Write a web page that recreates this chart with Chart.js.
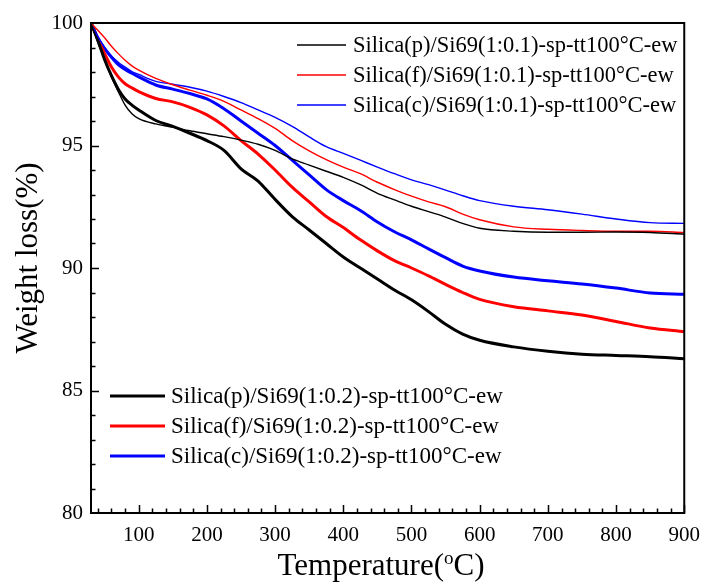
<!DOCTYPE html>
<html>
<head>
<meta charset="utf-8">
<script src="https://cdn.jsdelivr.net/npm/chart.js@4/dist/chart.umd.min.js"></script>
<style>
  body { margin: 0; background: #fff; }
  #wrap { width: 710px; height: 583px; }
</style>
</head>
<body>
<div id="wrap"><canvas id="tgaChart" width="710" height="583"></canvas></div>
<script>
// TGA curves, weight (%) against temperature (°C)
const temps = [30, 40, 50, 60, 70, 80, 90, 100, 125, 150, 175, 200, 225, 250, 275, 300, 325, 350, 375, 400,
               425, 450, 475, 500, 525, 550, 575, 600, 650, 700, 750, 800, 850, 900];

// 1:0.1 series (thin lines)
const silicaP01 = [100, 99.2, 98.5, 97.8, 97.2, 96.65, 96.3, 96.1, 95.88, 95.75, 95.6, 95.48, 95.36, 95.22, 95.05, 94.8,
                   94.45, 94.2, 93.95, 93.7, 93.4, 93.05, 92.78, 92.52, 92.3, 92.08, 91.82, 91.62, 91.5, 91.46, 91.46, 91.47, 91.45, 91.38];
const silicaF01 = [100, 99.7, 99.4, 99.05, 98.75, 98.48, 98.25, 98.08, 97.74, 97.48, 97.26, 97.05, 96.8, 96.45, 96.1, 95.7,
                   95.2, 94.78, 94.42, 94.12, 93.85, 93.5, 93.2, 92.93, 92.7, 92.5, 92.2, 91.97, 91.68, 91.58, 91.53, 91.5, 91.5, 91.45];
const silicaC01 = [100, 99.45, 99.0, 98.65, 98.4, 98.2, 98.02, 97.9, 97.62, 97.5, 97.38, 97.22, 97.0, 96.75, 96.45, 96.15,
                   95.78, 95.35, 94.95, 94.68, 94.4, 94.12, 93.85, 93.6, 93.4, 93.18, 92.95, 92.75, 92.52, 92.38, 92.2, 92.0, 91.85, 91.82];

// 1:0.2 series (thick lines)
const silicaP02 = [100, 99.3, 98.5, 97.85, 97.3, 96.9, 96.65, 96.45, 96.02, 95.78, 95.5, 95.2, 94.8, 94.05, 93.55, 92.8,
                   92.1, 91.55, 91.0, 90.45, 90.0, 89.55, 89.1, 88.7, 88.22, 87.7, 87.3, 87.05, 86.78, 86.6, 86.48, 86.43, 86.38, 86.3];
const silicaF02 = [100, 99.35, 98.75, 98.2, 97.8, 97.52, 97.35, 97.2, 96.92, 96.78, 96.56, 96.25, 95.8, 95.2, 94.65, 94.0,
                   93.3, 92.7, 92.1, 91.65, 91.15, 90.7, 90.3, 90.0, 89.68, 89.33, 89.0, 88.72, 88.42, 88.25, 88.08, 87.82, 87.55, 87.4];
const silicaC02 = [100, 99.4, 98.95, 98.6, 98.3, 98.1, 97.95, 97.8, 97.47, 97.3, 97.12, 96.9, 96.5, 96.0, 95.5, 95.0,
                   94.4, 93.8, 93.2, 92.75, 92.35, 91.88, 91.48, 91.15, 90.78, 90.42, 90.08, 89.88, 89.63, 89.48, 89.35, 89.18, 88.98, 88.93];

const xMajorTicks = [100, 200, 300, 400, 500, 600, 700, 800, 900];
const yMajorTicks = [80, 85, 90, 95, 100];

const serif = "'Liberation Serif', 'Times New Roman', serif";

function toPoints(values) {
    return values.map((v, i) => ({ x: temps[i], y: v }));
}

function series(label, values, color, width) {
    return {
        label: label,
        data: toPoints(values),
        borderColor: color,
        backgroundColor: color,
        borderWidth: width,
        pointRadius: 0,
        cubicInterpolationMode: 'monotone',
        fill: false
    };
}

// frame, inward tick marks, axis titles and the two legend boxes
const decorPlugin = {
    id: 'decor',
    afterDraw(chart) {
        const ctx = chart.ctx;
        const area = chart.chartArea;
        const xs = chart.scales.x;
        const ys = chart.scales.y;

        ctx.save();
        ctx.strokeStyle = '#000';
        ctx.lineWidth = 2;
        ctx.strokeRect(area.left, area.top, area.right - area.left, area.bottom - area.top);

        ctx.lineWidth = 1.5;
        ctx.beginPath();
        for (let t = 40; t <= 900; t += 20) {
            const px = Math.round(xs.getPixelForValue(t)) + 0.5;
            const len = t % 100 === 0 ? 8 : 4.5;
            ctx.moveTo(px, area.bottom);
            ctx.lineTo(px, area.bottom - len);
        }
        for (let w = 81; w < 100; w += 1) {
            const py = Math.round(ys.getPixelForValue(w)) + 0.5;
            const len = w % 5 === 0 ? 8 : 4.5;
            ctx.moveTo(area.left, py);
            ctx.lineTo(area.left + len, py);
        }
        ctx.stroke();

        // y title
        ctx.fillStyle = '#000';
        ctx.font = '31px ' + serif;
        ctx.textAlign = 'center';
        ctx.textBaseline = 'middle';
        ctx.save();
        ctx.translate(29, 258);
        ctx.rotate(-Math.PI / 2);
        ctx.fillText('Weight loss(%)', 0, 0);
        ctx.restore();

        // x title with superscript o
        const partA = 'Temperature(';
        const partB = 'C)';
        ctx.font = '31px ' + serif;
        const wA = ctx.measureText(partA).width;
        const wB = ctx.measureText(partB).width;
        ctx.font = '19px ' + serif;
        const wO = ctx.measureText('o').width;
        const total = wA + wO + wB;
        const x0 = 381 - total / 2;
        const yBase = 575;
        ctx.textAlign = 'left';
        ctx.textBaseline = 'alphabetic';
        ctx.font = '31px ' + serif;
        ctx.fillText(partA, x0, yBase);
        ctx.font = '19px ' + serif;
        ctx.fillText('o', x0 + wA, yBase - 11);
        ctx.font = '31px ' + serif;
        ctx.fillText(partB, x0 + wA + wO, yBase);

        // legends
        const ds = chart.data.datasets;
        const drawLegend = (indices, lineX0, lineX1, textX, rows, size) => {
            ctx.font = size + 'px ' + serif;
            ctx.textAlign = 'left';
            ctx.textBaseline = 'middle';
            indices.forEach((di, k) => {
                const d = ds[di];
                ctx.strokeStyle = d.borderColor;
                ctx.lineWidth = d.borderWidth;
                ctx.beginPath();
                ctx.moveTo(lineX0, rows[k]);
                ctx.lineTo(lineX1, rows[k]);
                ctx.stroke();
                ctx.fillStyle = '#000';
                ctx.fillText(d.label, textX, rows[k] + 1);
            });
        };
        drawLegend([0, 1, 2], 297, 346, 353, [45, 75, 105], 22.5);
        drawLegend([3, 4, 5], 110, 165, 171, [396, 426, 456], 23);
        ctx.restore();
    }
};

const ctx = document.getElementById('tgaChart').getContext('2d');
new Chart(ctx, {
    type: 'line',
    data: {
        datasets: [
            series('Silica(p)/Si69(1:0.1)-sp-tt100°C-ew', silicaP01, '#000000', 1.4),
            series('Silica(f)/Si69(1:0.1)-sp-tt100°C-ew', silicaF01, '#ff0000', 1.4),
            series('Silica(c)/Si69(1:0.1)-sp-tt100°C-ew', silicaC01, '#0000ff', 1.4),
            series('Silica(p)/Si69(1:0.2)-sp-tt100°C-ew', silicaP02, '#000000', 3),
            series('Silica(f)/Si69(1:0.2)-sp-tt100°C-ew', silicaF02, '#ff0000', 3),
            series('Silica(c)/Si69(1:0.2)-sp-tt100°C-ew', silicaC02, '#0000ff', 3)
        ]
    },
    options: {
        responsive: false,
        animation: false,
        layout: { padding: { top: 23, right: 17, left: 0, bottom: 0 } },
        plugins: { legend: { display: false }, tooltip: { enabled: false } },
        scales: {
            x: {
                type: 'linear',
                min: 30,
                max: 900,
                afterBuildTicks: s => { s.ticks = xMajorTicks.map(v => ({ value: v })); },
                afterFit: s => { s.height = 70; },
                grid: { display: false, drawTicks: false },
                border: { display: false },
                ticks: { color: '#000', font: { family: serif, size: 21 }, padding: 10, maxRotation: 0 }
            },
            y: {
                min: 80,
                max: 100,
                afterBuildTicks: s => { s.ticks = yMajorTicks.map(v => ({ value: v })); },
                afterFit: s => { s.width = 91; },
                grid: { display: false, drawTicks: false },
                border: { display: false },
                ticks: { color: '#000', font: { family: serif, size: 21 }, padding: 8 }
            }
        }
    },
    plugins: [decorPlugin]
});
</script>
</body>
</html>
